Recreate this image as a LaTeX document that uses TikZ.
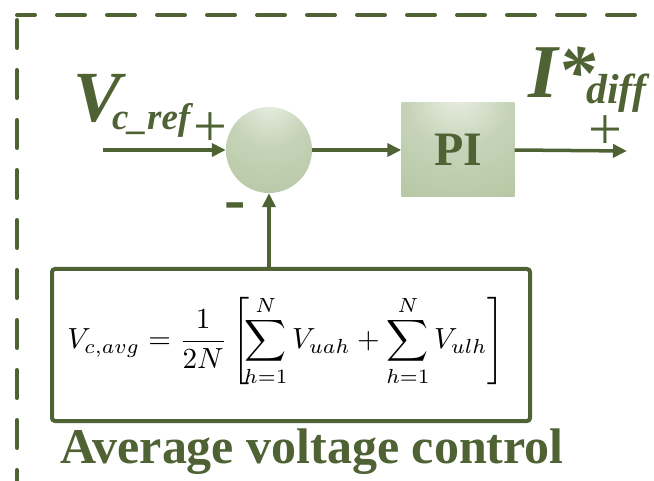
\documentclass[tikz,border=0pt]{standalone}
\usepackage{fontspec}
\usepackage{graphicx}
\setmainfont{Liberation Serif}
\usetikzlibrary{arrows.meta}
\definecolor{dg}{RGB}{79,98,52}
\definecolor{gin}{RGB}{234,239,228}
\definecolor{gmid}{RGB}{198,211,184}
\definecolor{gout}{RGB}{170,189,148}
\pgfdeclareradialshading{glow}{\pgfpoint{0bp}{30bp}}{color(0bp)=(gin); color(22bp)=(gmid); color(70bp)=(gout); color(100bp)=(gout)}
\begin{document}
\begin{tikzpicture}[x=1pt,y=-1pt,
  conn/.style={draw=dg, line width=3.5pt, -{Triangle[length=14pt,width=13pt]}},
  border/.style={draw=dg, line width=4pt, line cap=round, dash pattern=on 28pt off 22pt},
  lab/.style={anchor=base west, inner sep=0pt, text=dg},
  sign/.style={inner sep=0pt, text=dg}]
\useasboundingbox (0,0) rectangle (654,481);
% dashed frame
\coordinate (tl) at (17,15);
\coordinate (tr) at (662,15);
\coordinate (lt) at (17,20);
\coordinate (lb) at (17,490);
\draw[border, dash phase=10pt] (tl) -- (tr);
\draw[border] (lt) -- (lb);
% blocks
\node[circle, minimum size=86pt, inner sep=0pt, shading=glow] (sum) at (269,150) {};
\node[minimum width=113pt, minimum height=94pt, inner sep=0pt, shading=glow, text=dg,
  font=\fontsize{48}{48}\selectfont\bfseries] (pi) at (458,150) {PI};
\node[draw=dg, line width=4pt, rounded corners=3pt, minimum width=478pt, minimum height=152pt] (fbox) at (291,345) {};
\node[inner sep=0pt] (eq) at (286,341) {\resizebox{437pt}{!}{$\displaystyle V_{c,avg}=\frac{1}{2N}\left[\!\sum_{h=1}^{N}V_{uah}+\sum_{h=1}^{N}V_{ulh}\right]$}};
% connectors
\coordinate (in) at (103,150);
\coordinate (out) at (627,151);
\draw[conn] (in) -- (sum.west);
\draw[conn] (sum.east) -- (pi.west);
\draw[conn] (pi.east) -- (out);
\draw[conn] (fbox.north -| sum) -- (sum.south);
% labels
\node[lab, font=\fontsize{72}{72}\selectfont\bfseries\itshape] (vlab) at (73,122) {V};
\node[lab, font=\fontsize{37}{37}\selectfont\bfseries\itshape] (vsub) at (112,130) {c\_ref};
\node[lab, font=\fontsize{76}{76}\selectfont\bfseries\itshape] (ilab) at (528,98) {I*};
\node[lab, font=\fontsize{42}{42}\selectfont\bfseries\itshape] (isub) at (586,104) {diff};
\node[sign, font=\fontsize{60}{60}\selectfont] (p1) at (210,130) {+};
\node[sign, font=\fontsize{60}{60}\selectfont] (p2) at (605,133) {+};
\node[sign, font=\fontsize{64}{64}\selectfont\bfseries] (m1) at (235,212) {-};
\node[lab, font=\fontsize{50}{50}\selectfont\bfseries] (title) at (60,463) {Average voltage control};
\end{tikzpicture}
\end{document}
